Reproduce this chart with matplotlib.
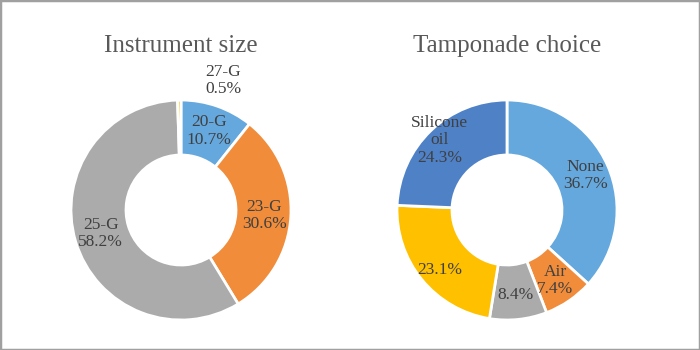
import numpy as np
import matplotlib
matplotlib.use("Agg")
import matplotlib.pyplot as plt
from matplotlib.patches import Rectangle

#---- Donnees
size_labels = ["20-G", "23-G", "25-G", "27-G"]
size_values = [10.7, 30.6, 58.2, 0.5]
size_colors = ["#65A8DE", "#F08C3A", "#ABABAB", "#FFC000"]

tamp_labels = ["None", "Air", "", "", "Silicone\noil"]
tamp_values = [36.7, 7.4, 8.4, 23.1, 24.3]
tamp_colors = ["#65A8DE", "#F08C3A", "#ABABAB", "#FFC000", "#4F81C7"]

plt.rcParams['font.family'] = ['Liberation Serif', 'DejaVu Serif']

TXT = "#404040"


#-----------------------------------------------------------------------
#---- Trace d'un anneau
#-----------------------------------------------------------------------
def donut(fig, cx, cy, title, labels, values, colors, lab_r, overrides):

    rad = 110.0
    W, H = 700.0, 350.0
    ax = fig.add_axes([(cx - rad) / W, (H - cy - rad) / H, 2 * rad / W, 2 * rad / H])
    ax.pie(values, colors=colors, startangle=90, counterclock=False,
           wedgeprops=dict(width=0.5, edgecolor="white", linewidth=2))
    ax.set_xlim(-1, 1)
    ax.set_ylim(-1, 1)
    ax.set_aspect("equal")
    ax.axis("off")

    #--- etiquettes
    total = float(np.sum(values))
    cum = 0.0
    for i, v in enumerate(values):
        mid = (cum + v / 2.0) / total * 360.0
        cum += v
        r = lab_r
        ang = mid
        if i in overrides:
            r, ang = overrides[i]
        th = np.deg2rad(90.0 - ang)
        txt = ("%s\n%.1f%%" % (labels[i], v)) if labels[i] else "%.1f%%" % v
        ax.text(r * np.cos(th), r * np.sin(th), txt, ha="center", va="center",
                fontsize=12.5, color=TXT, linespacing=1.1, clip_on=False)

    fig.text(cx / W, (H - 46) / H, title, ha="center", va="center",
             fontsize=18, color="#595959")


#-----------------------------------------------------------------------
#---- Main
#-----------------------------------------------------------------------
fig = plt.figure(figsize=(7, 3.5), dpi=100)

donut(fig, 181, 210, "Instrument size", size_labels, size_values, size_colors,
      0.76, {3: (1.24, 18.0)})
donut(fig, 507, 210, "Tamponade choice", tamp_labels, tamp_values, tamp_colors,
      0.78, {3: (0.82, 228.0), 4: (0.88, 316.0)})

#---- Cadre
fig.patches.append(Rectangle((0, 0), 1, 1, transform=fig.transFigure, fill=False,
                             edgecolor="#A0A0A0", linewidth=2.5))

fig.savefig("out.png", dpi=100)
